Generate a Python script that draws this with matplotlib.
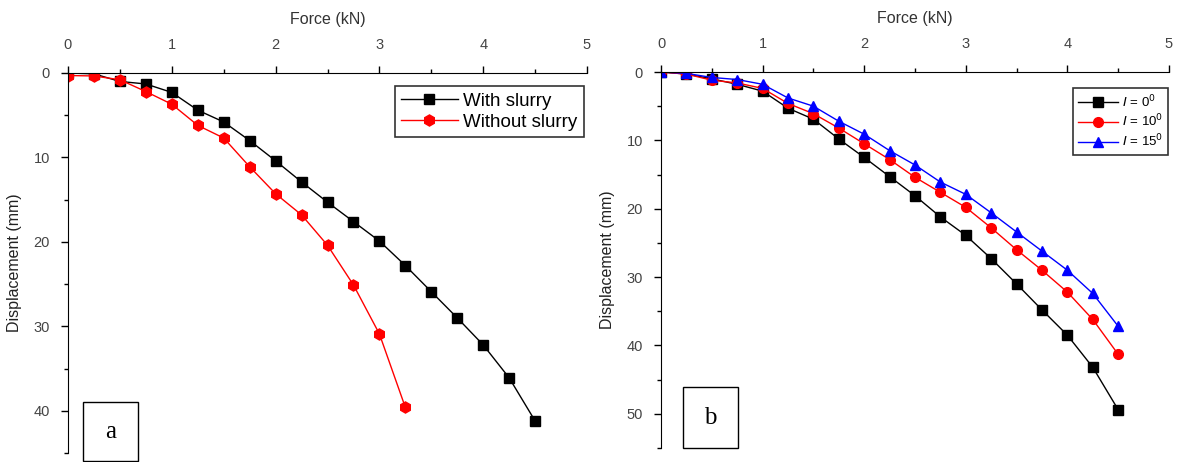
import matplotlib.pyplot as plt
import numpy as np
from matplotlib.patches import Rectangle
from matplotlib.ticker import MultipleLocator

# panel a: force (kN) vs displacement (mm)
force_a = [0, 0.25, 0.5, 0.75, 1.0, 1.25, 1.5, 1.75, 2.0, 2.25, 2.5, 2.75, 3.0, 3.25,
           3.5, 3.75, 4.0, 4.25, 4.5]
with_slurry = [0, 0.1, 1.0, 1.3, 2.3, 4.4, 5.8, 8.0, 10.4, 12.9, 15.3, 17.6, 19.9, 22.8,
               25.9, 29.0, 32.2, 36.1, 41.2]
force_a_red = [0, 0.25, 0.5, 0.75, 1.0, 1.25, 1.5, 1.75, 2.0, 2.25, 2.5, 2.75, 3.0, 3.25]
without_slurry = [0.3, 0.35, 0.8, 2.2, 3.7, 6.2, 7.7, 11.1, 14.3, 16.8, 20.4, 25.1, 30.9, 39.6]

# panel b: inclination angles
force_b = [0, 0.25, 0.5, 0.75, 1.0, 1.25, 1.5, 1.75, 2.0, 2.25, 2.5, 2.75, 3.0, 3.25,
           3.5, 3.75, 4.0, 4.25, 4.5]
disp_i0 = [0, 0.3, 1.0, 1.8, 2.8, 5.3, 6.9, 9.8, 12.5, 15.3, 18.1, 21.2, 23.9, 27.3,
           31.0, 34.8, 38.5, 43.2, 49.4]
disp_i10 = [0, 0.3, 1.2, 1.6, 2.4, 4.6, 6.1, 8.2, 10.5, 12.8, 15.4, 17.6, 19.8, 22.8,
            26.0, 29.0, 32.2, 36.2, 41.3]
disp_i15 = [0, 0.2, 0.8, 1.1, 1.8, 3.8, 5.0, 7.2, 9.1, 11.5, 13.6, 16.1, 17.9, 20.6,
            23.4, 26.2, 29.0, 32.4, 37.2]
labels_b = [r"$I$ = 0$^0$", r"$I$ = 10$^0$", r"$I$ = 15$^0$"]

plt.rcParams['font.family'] = ['Liberation Sans', 'DejaVu Sans']
W, H = 1182, 462
fig = plt.figure(figsize=(W / 100, H / 100), dpi=100)

def px_axes(x0, x1, y0, y1):
    return fig.add_axes([x0 / W, 1 - y1 / H, (x1 - x0) / W, (y1 - y0) / H])

def style(ax, ymax):
    ax.set_xlim(0, 5)
    ax.set_ylim(ymax, 0)
    ax.xaxis.tick_top()
    ax.xaxis.set_label_position('top')
    ax.spines['right'].set_visible(False)
    ax.spines['bottom'].set_visible(False)
    ax.xaxis.set_major_locator(MultipleLocator(1))
    ax.xaxis.set_minor_locator(MultipleLocator(0.5))
    ax.yaxis.set_major_locator(MultipleLocator(10))
    ax.yaxis.set_minor_locator(MultipleLocator(5))
    ax.tick_params(which='major', direction='out', length=5, width=1,
                   labelsize=10.5, labelcolor='#444444')
    ax.tick_params(axis='x', which='major', pad=10)
    ax.tick_params(axis='y', which='major', pad=8)
    ax.tick_params(which='minor', direction='out', length=3, width=1)
    ax.set_xlabel("Force (kN)", fontsize=11.5, color='#333333', labelpad=10)
    ax.set_ylabel("Displacement (mm)", fontsize=11.5, color='#222222', labelpad=8)

ax1 = px_axes(68, 587, 73, 453)
style(ax1, 45)
ax1.plot(force_a, with_slurry, color='black', marker='s', markersize=7, lw=1,
         label="With slurry")
ax1.plot(force_a_red, without_slurry, color='red', marker='h', markersize=8, lw=1,
         label="Without slurry")
leg1 = ax1.legend(loc='upper right', bbox_to_anchor=(584 / W, 1 - 86 / H),
                  bbox_transform=fig.transFigure, fontsize=13.5, frameon=True,
                  fancybox=False, edgecolor='black', handlelength=3,
                  borderaxespad=0, handletextpad=0.3, labelspacing=0.2,
                  borderpad=0.35)
leg1.get_frame().set_linewidth(1.2)

ax2 = px_axes(661, 1169, 72, 448)
style(ax2, 55)
ax2.plot(force_b, disp_i0, color='black', marker='s', markersize=7, lw=1, label=labels_b[0])
ax2.plot(force_b, disp_i10, color='red', marker='o', markersize=7, lw=1, label=labels_b[1])
ax2.plot(force_b, disp_i15, color='blue', marker='^', markersize=7, lw=1, label=labels_b[2])
leg2 = ax2.legend(loc='upper right', bbox_to_anchor=(1168 / W, 1 - 88 / H),
                  bbox_transform=fig.transFigure, fontsize=9.5, frameon=True,
                  fancybox=False, edgecolor='black', handlelength=3,
                  borderaxespad=0, handletextpad=0.3, labelspacing=0.25)
leg2.get_frame().set_linewidth(1.2)

# panel tags
for (x0, y0, x1, y1, tag) in [(83, 402, 138, 461, 'a'), (683, 387, 738, 448, 'b')]:
    fig.patches.append(Rectangle((x0 / W, 1 - y1 / H), (x1 - x0) / W, (y1 - y0) / H,
                                 transform=fig.transFigure, fill=True, facecolor='white',
                                 edgecolor='black', lw=1, zorder=5))
    fig.text((x0 + x1) / 2 / W, 1 - (y0 + y1) / 2 / H, tag, ha='center', va='center',
             fontsize=18, family='Liberation Serif', zorder=6)

fig.savefig("out.png", dpi=100)
